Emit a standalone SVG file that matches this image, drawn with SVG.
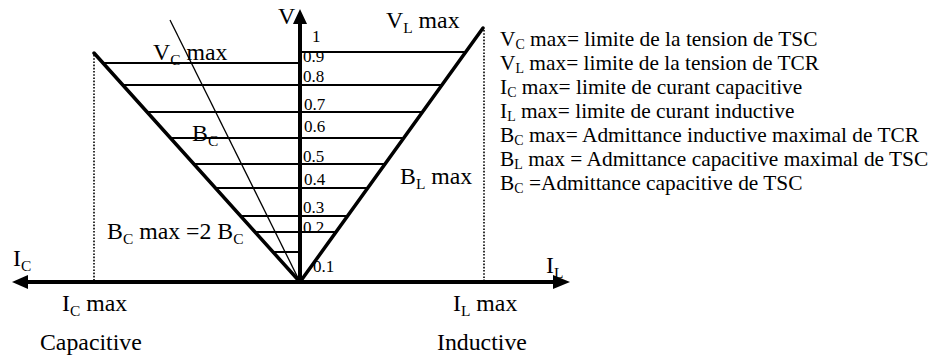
<svg xmlns="http://www.w3.org/2000/svg" width="928" height="358" viewBox="0 0 928 358">
<style>
text{font-family:"Liberation Serif","Times New Roman",serif;fill:#000}
.lbl{font-size:23.8px}
.num{font-size:17px}
.leg{font-size:21.4px}
.sub{font-size:65%}
.axis{stroke:#000;stroke-width:4;fill:none}
.diag{stroke:#000;stroke-width:3.5;fill:none;stroke-linecap:round}
.thin{stroke:#000;stroke-width:1.3;fill:none}
.lev{stroke:#000;stroke-width:2;fill:none}
.dot{stroke:#000;stroke-width:1.6;stroke-dasharray:1.6 1.6;fill:none}
</style>
<rect width="928" height="358" fill="#fff"/>
<g id="connectors">
<line class="dot" x1="94" y1="55" x2="94" y2="282"/>
<line class="dot" x1="484" y1="30" x2="484" y2="282"/>
<g id="levels">
<line class="lev" x1="103" y1="63" x2="300" y2="63"/>
<line class="lev" x1="300" y1="52" x2="466" y2="52"/>
<line class="lev" x1="123" y1="85" x2="443" y2="85"/>
<line class="lev" x1="147" y1="112" x2="423" y2="112"/>
<line class="lev" x1="170" y1="138" x2="404" y2="138"/>
<line class="lev" x1="194" y1="164" x2="386" y2="164"/>
<line class="lev" x1="215" y1="188" x2="368" y2="188"/>
<line class="lev" x1="241" y1="216" x2="348" y2="216"/>
<line class="lev" x1="255" y1="232" x2="336" y2="232"/>
<line class="lev" x1="273" y1="252" x2="300" y2="252"/>
</g>
<line class="diag" x1="94" y1="53" x2="300" y2="282"/>
<line class="diag" x1="483" y1="28" x2="300" y2="282"/>
<line class="thin" x1="170" y1="20" x2="300" y2="282"/>
<line class="axis" x1="300" y1="284" x2="300" y2="23"/>
<polygon points="300,9 293,24 307,24" fill="#000"/>
<line class="axis" x1="27" y1="282" x2="554" y2="282"/>
<polygon points="12,282 28,275 28,289" fill="#000"/>
<polygon points="570,282 553,275 553,289" fill="#000"/>
</g>
<g id="axis-labels">
<text class="lbl" x="278" y="24">V</text>
<text class="lbl" x="13" y="266">I<tspan class="sub" dy="5">C</tspan></text>
<text class="lbl" x="546" y="273">I<tspan class="sub" dy="5">L</tspan></text>
<text class="lbl" x="62" y="311">I<tspan class="sub" dy="5">C</tspan><tspan dy="-5"> max</tspan></text>
<text class="lbl" x="453" y="311">I<tspan class="sub" dy="5">L</tspan><tspan dy="-5"> max</tspan></text>
<text class="lbl" x="40" y="350">Capacitive</text>
<text class="lbl" x="437" y="350">Inductive</text>
</g>
<g id="curve-labels">
<text class="lbl" x="153" y="60">V<tspan class="sub" dy="5">C</tspan><tspan dy="-5"> max</tspan></text>
<text class="lbl" x="386" y="28">V<tspan class="sub" dy="5">L</tspan><tspan dy="-5"> max</tspan></text>
<text class="lbl" x="192" y="141">B<tspan class="sub" dy="5">C</tspan></text>
<text class="lbl" x="400" y="184">B<tspan class="sub" dy="5">L</tspan><tspan dy="-5"> max</tspan></text>
<text class="lbl" x="107" y="239">B<tspan class="sub" dy="5">C</tspan><tspan dy="-5"> max =2 B</tspan><tspan class="sub" dy="5">C</tspan></text>
</g>
<g id="scale">
<text class="num" x="312" y="42">1</text>
<text class="num" x="303" y="62">0.9</text>
<text class="num" x="303" y="82">0.8</text>
<text class="num" x="304" y="110">0.7</text>
<text class="num" x="304" y="132">0.6</text>
<text class="num" x="303" y="162">0.5</text>
<text class="num" x="304" y="185">0.4</text>
<text class="num" x="303" y="213">0.3</text>
<text class="num" x="303" y="233">0.2</text>
<text class="num" x="313" y="272">0.1</text>
</g>
<g id="legend">
<text class="leg" x="500" y="46">V<tspan class="sub" dy="3">C</tspan><tspan dy="-3"> max= limite de la tension de TSC</tspan></text>
<text class="leg" x="500" y="70">V<tspan class="sub" dy="3">L</tspan><tspan dy="-3"> max= limite de la tension de TCR</tspan></text>
<text class="leg" x="500" y="94">I<tspan class="sub" dy="3">C</tspan><tspan dy="-3"> max= limite de curant capacitive</tspan></text>
<text class="leg" x="500" y="118">I<tspan class="sub" dy="3">L</tspan><tspan dy="-3"> max= limite de curant inductive</tspan></text>
<text class="leg" x="500" y="142">B<tspan class="sub" dy="3">C</tspan><tspan dy="-3"> max= Admittance inductive maximal de TCR</tspan></text>
<text class="leg" x="500" y="166">B<tspan class="sub" dy="3">L</tspan><tspan dy="-3"> max = Admittance capacitive maximal de TSC</tspan></text>
<text class="leg" x="500" y="190">B<tspan class="sub" dy="3">C</tspan><tspan dy="-3"> =Admittance capacitive de TSC</tspan></text>
</g>
</svg>
